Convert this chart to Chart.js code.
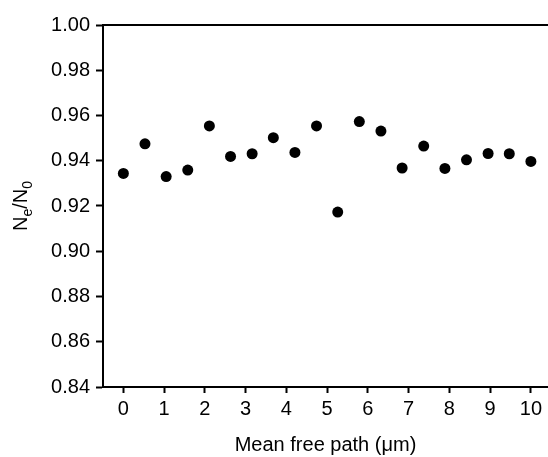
<!DOCTYPE html>
<html>
<head>
<meta charset="utf-8">
<script src="https://cdn.jsdelivr.net/npm/chart.js@4/dist/chart.umd.min.js"></script>
<style>
  html, body { margin: 0; padding: 0; background: #fff; }
  #wrap { width: 548px; height: 457px; }
</style>
</head>
<body>
<div id="wrap"><canvas id="c" width="548" height="457"></canvas></div>
<script>
// Mean free path (um) vs Ne/N0
const meanFreePath = [0, 0.53, 1.05, 1.58, 2.11, 2.63, 3.16, 3.68, 4.21, 4.74,
                      5.26, 5.79, 6.32, 6.84, 7.37, 7.89, 8.42, 8.95, 9.47, 10];
const ratio = [0.9344, 0.9475, 0.9330, 0.9359, 0.9554, 0.9419, 0.9431, 0.9502, 0.9437, 0.9554,
               0.9173, 0.9573, 0.9531, 0.9368, 0.9465, 0.9366, 0.9404, 0.9432, 0.9431, 0.9397];
const xTicks = [0, 1, 2, 3, 4, 5, 6, 7, 8, 9, 10];
const yTicks = [0.84, 0.86, 0.88, 0.90, 0.92, 0.94, 0.96, 0.98, 1.00];

const FONT = 'Liberation Sans, Arial, sans-serif';

// top frame line + y title with subscripts
const frame = {
  id: 'frame',
  afterDraw(chart){
    const { ctx, chartArea } = chart;
    ctx.save();
    ctx.strokeStyle = '#000';
    ctx.lineWidth = 2;
    ctx.beginPath();
    ctx.moveTo(chartArea.left, chartArea.top);
    ctx.lineTo(chart.width, chartArea.top);
    ctx.stroke();

    // "Ne/N0" rotated
    const parts = [['N', 20, 0], ['e', 14, 5], ['/N', 20, 0], ['0', 14, 5]];
    let total = 0;
    parts.forEach(p => { ctx.font = p[1] + 'px ' + FONT; total += ctx.measureText(p[0]).width; });
    const cy = (chartArea.top + chartArea.bottom) / 2;
    ctx.translate(27, cy);
    ctx.rotate(-Math.PI / 2);
    ctx.fillStyle = '#000';
    ctx.textBaseline = 'alphabetic';
    ctx.textAlign = 'left';
    let x = -total / 2;
    parts.forEach(p => {
      ctx.font = p[1] + 'px ' + FONT;
      ctx.fillText(p[0], x, p[2]);
      x += ctx.measureText(p[0]).width;
    });
    ctx.restore();
  }
};

new Chart(document.getElementById('c').getContext('2d'), {
  type: 'scatter',
  data: {
    datasets: [{
      data: meanFreePath.map((v, i) => ({ x: v, y: ratio[i] })),
      backgroundColor: '#000',
      borderWidth: 0,
      pointRadius: 5.5,
      pointHoverRadius: 5.5
    }]
  },
  options: {
    responsive: false,
    animation: false,
    layout: { autoPadding: false, padding: { top: 25, right: 0, left: 0, bottom: 0 } },
    plugins: { legend: { display: false }, tooltip: { enabled: false } },
    scales: {
      x: {
        type: 'linear',
        min: -0.5,
        max: 10.42,
        afterFit(s){ s.height = 70; s.paddingLeft = 0; s.paddingRight = 0; },
        afterBuildTicks(s){ s.ticks = xTicks.map(v => ({ value: v })); },
        border: { display: true, color: '#000', width: 2 },
        grid: { color: 'transparent', tickColor: '#000', tickLength: 6, tickWidth: 2, drawOnChartArea: false },
        ticks: {
          color: '#000', padding: 4,
          font: { family: FONT, size: 20 },
          callback: v => String(v)
        },
        title: {
          display: true, text: 'Mean free path (\u03bcm)', color: '#000',
          font: { family: FONT, size: 20 }, padding: { top: 10, bottom: 0 }
        }
      },
      y: {
        min: 0.84,
        max: 1.00,
        afterFit(s){ s.width = 103; s.paddingTop = 0; s.paddingBottom = 0; },
        afterBuildTicks(s){ s.ticks = yTicks.map(v => ({ value: v })); },
        border: { display: true, color: '#000', width: 2 },
        grid: { color: 'transparent', tickColor: '#000', tickLength: 7, tickWidth: 2, drawOnChartArea: false },
        ticks: {
          color: '#000', padding: 6,
          font: { family: FONT, size: 20 },
          callback: v => Number(v).toFixed(2)
        }
      }
    }
  },
  plugins: [frame]
});
</script>
</body>
</html>
